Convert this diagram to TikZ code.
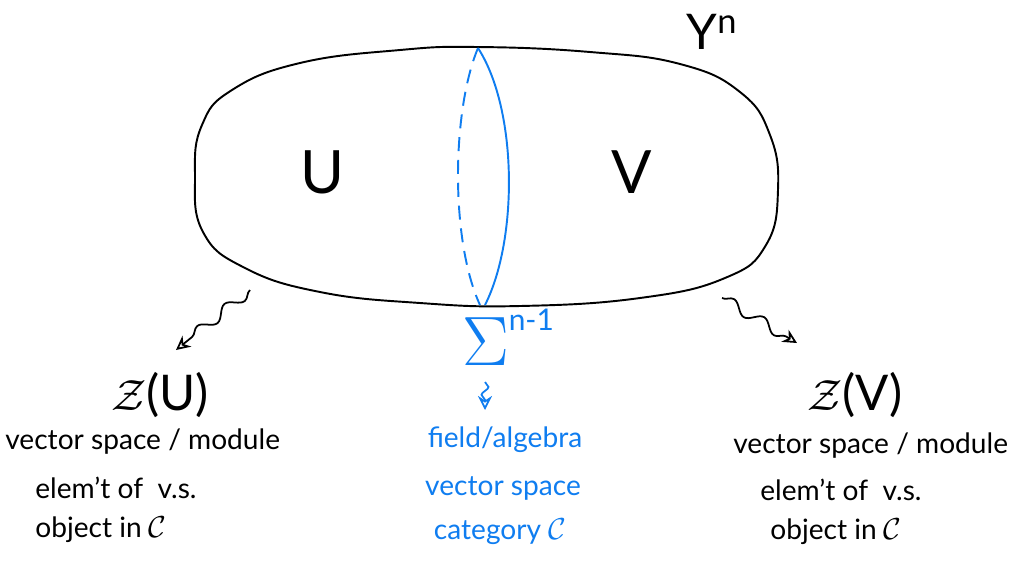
\documentclass[tikz,border=0pt]{standalone}
\usepackage{fontspec}
\setmainfont{Lato}
\usetikzlibrary{arrows.meta,decorations.pathmorphing}
\definecolor{seamblue}{RGB}{15,125,240}
\tikzset{
  note/.style={font=\fontsize{16}{18}\selectfont, inner sep=0pt},
  bigletter/.style={font=\fontsize{34}{36}\selectfont, inner sep=0pt},
  title/.style={font=\fontsize{28}{30}\selectfont, inner sep=0pt},
  squiggle/.style={-{Stealth[open,length=8pt,width=8pt]}, line width=1pt, decorate,
    decoration={snake, amplitude=3pt, segment length=20pt, post length=7pt}},
}
\begin{document}
\begin{tikzpicture}[x=0.02cm,y=-0.02cm]
\useasboundingbox (0,0) rectangle (1029,566);
% the manifold Y^n
\draw[line width=1.1pt] plot[smooth cycle, tension=0.75] coordinates {(478,47) (590,52) (680,64) (740,92) (770,135) (778,190) (766,245) (725,278) (640,298) (520,306) (420,303) (320,292) (245,268) (203,232) (195,175) (202,125) (232,90) (300,63) (400,50)};
\draw[seamblue, line width=1.1pt] (478,48) .. controls (518,110) and (518,240) .. (485,305);
\draw[seamblue, line width=1.1pt, dash pattern=on 8pt off 5pt] (478,48) .. controls (452,110) and (450,240) .. (480,305);
\node[bigletter] (u) at (322,172) {U};
\node[bigletter] (v) at (632,172) {V};
\node[title] (y) at (712,32) {Y\textsuperscript{n}};
% the cut
\node[title, text=seamblue] (sigma) at (508,337) {\scalebox{1.6}{$\Sigma$}\raisebox{20pt}{\fontsize{17}{17}\selectfont n-1}};
\node[note, text=seamblue] (field) at (505,440) {field/algebra};
\node[note, text=seamblue] (vsp) at (503,488) {vector space};
\node[note, text=seamblue] (cat) at (500,532) {category $\mathcal{C}$};
% left side
\node[title] (zu) at (160,395) {$\mathcal{Z}$(U)};
\node[note, anchor=west] (zu1) at (5,442) {vector space / module};
\node[note, anchor=west] (zu2) at (35,488) {elem't of \ v.s.};
\node[note, anchor=west] (zu3) at (35,530) {object in $\mathcal{C}$};
% right side
\node[title] (zv) at (855,395) {$\mathcal{Z}$(V)};
\node[note, anchor=west] (zv1) at (733,446) {vector space / module};
\node[note, anchor=west] (zv2) at (760,490) {elem't of \ v.s.};
\node[note, anchor=west] (zv3) at (770,532) {object in $\mathcal{C}$};
% arrows
\coordinate (uout) at (250,290);
\coordinate (uin) at (176,350);
\coordinate (vout) at (722,298);
\coordinate (vin) at (797,343);
\coordinate (sout) at (485,382);
\coordinate (sin) at (485,410);
\draw[squiggle] (uout) -- (uin);
\draw[squiggle] (vout) -- (vin);
\draw[squiggle, seamblue, decoration={snake, amplitude=2pt, segment length=9pt, post length=5pt}] (sout) -- (sin);
\end{tikzpicture}
\end{document}
